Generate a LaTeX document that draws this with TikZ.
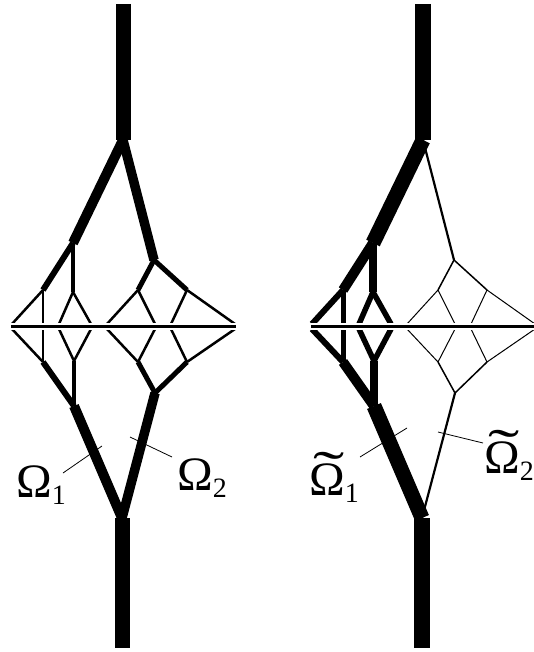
\documentclass[tikz,border=0pt]{standalone}
\usepackage{fontspec}
\usepackage{graphicx}
\setmainfont{Liberation Serif}
\newcommand\tildeOmega{\makebox[0pt][l]{\hspace{4pt}\raisebox{6pt}{\scalebox{1.95}[1.15]{˜}}}Ω}
\newcommand\mkcoords[3]{% #1 prefix, #2 x offset, #3 right end of axis
 \begin{scope}[xshift=#2]
  \coordinate (#1T) at (123,4);   \coordinate (#1S) at (123,140);
  \coordinate (#1A) at (73,243);  \coordinate (#1A1) at (43,290);  \coordinate (#1A2) at (73,292);
  \coordinate (#1A1a) at (12,324); \coordinate (#1A1b) at (43,324);
  \coordinate (#1A2a) at (59,324); \coordinate (#1A2b) at (91,324);
  \coordinate (#1B) at (154,260); \coordinate (#1B1) at (138,290); \coordinate (#1B2) at (187,290);
  \coordinate (#1B1a) at (107,324); \coordinate (#1B1b) at (155,324);
  \coordinate (#1B2a) at (171,324); \coordinate (#1B2b) at (235,324);
  \coordinate (#1a1a) at (12,329); \coordinate (#1a1b) at (43,329);
  \coordinate (#1a2a) at (59,329); \coordinate (#1a2b) at (91,329);
  \coordinate (#1a1) at (43,362); \coordinate (#1a2) at (74,361); \coordinate (#1a) at (74,406);
  \coordinate (#1b1a) at (107,329); \coordinate (#1b1b) at (155,329);
  \coordinate (#1b2a) at (171,329); \coordinate (#1b2b) at (235,329);
  \coordinate (#1b1) at (138,362); \coordinate (#1b2) at (187,362); \coordinate (#1b) at (155,393);
  \coordinate (#1s) at (122,518); \coordinate (#1t) at (122,648);
  \coordinate (#1H1) at (11,326.5);
 \end{scope}
 \coordinate (#1H2) at (#3,326.5);}
\begin{document}
\begin{tikzpicture}[x=1pt,y=-1pt,
  seg/.style={line width=#1, line cap=butt},
  lead/.style={line width=0.8pt},
  lbl/.style={inner sep=0pt, anchor=base west, font=\fontsize{48}{48}\selectfont},
  axiswhite/.style={white, line width=7.5pt, line cap=butt},
  axisblack/.style={black, line width=3pt, line cap=butt}]
\useasboundingbox (0,0) rectangle (534,652);
\mkcoords{L}{0}{236}
\mkcoords{R}{300}{534}
% ---------- left figure ----------
\draw[seg=15] (LT) -- (LS);
\draw[seg=10] (LS) -- (LA);
\draw[seg=9.5] (LS) -- (LB);
\draw[seg=6] (LA) -- (LA1);
\draw[seg=4.5] (LA) -- (LA2);
\draw[seg=5] (LB) -- (LB1);
\draw[seg=5] (LB) -- (LB2);
\foreach \p/\q in {A1/A1a,A1/A1b,A2/A2a,A2/A2b,B1/B1a,B1/B1b,B2/B2a,B2/B2b,
                   a1/a1a,a1/a1b,a2/a2a,a2/a2b,b1/b1a,b1/b1b,b2/b2a,b2/b2b}
  \draw[seg=2.5] (L\p) -- (L\q);
\draw[seg=6] (La1) -- (La);
\draw[seg=4.5] (La2) -- (La);
\draw[seg=5] (Lb1) -- (Lb);
\draw[seg=5] (Lb2) -- (Lb);
\draw[seg=10] (La) -- (Ls);
\draw[seg=9.5] (Lb) -- (Ls);
\draw[seg=15] (Ls) -- (Lt);
\draw[axiswhite] (LH1) -- (LH2);
\draw[axisblack] (LH1) -- (LH2);
% ---------- right figure ----------
\draw[seg=16] (RT) -- (RS);
\draw[seg=15] (RS) -- (RA);
\draw[seg=2.2] (RS) -- (RB);
\draw[seg=10] (RA) -- (RA1);
\draw[seg=7.5] (RA) -- (RA2);
\draw[seg=6] (RA1) -- (RA1a);
\draw[seg=5] (RA1) -- (RA1b);
\draw[seg=5.5] (RA2) -- (RA2a);
\draw[seg=5.5] (RA2) -- (RA2b);
\draw[seg=6] (Ra1) -- (Ra1a);
\draw[seg=5] (Ra1) -- (Ra1b);
\draw[seg=5.5] (Ra2) -- (Ra2a);
\draw[seg=5.5] (Ra2) -- (Ra2b);
\draw[seg=1.5] (RB) -- (RB1);
\draw[seg=1.5] (RB) -- (RB2);
\foreach \p/\q in {B1/B1a,B1/B1b,B2/B2a,B2/B2b,b1/b1a,b1/b1b,b2/b2a,b2/b2b}
  \draw[seg=1] (R\p) -- (R\q);
\draw[seg=1.5] (Rb1) -- (Rb);
\draw[seg=1.5] (Rb2) -- (Rb);
\draw[seg=10] (Ra1) -- (Ra);
\draw[seg=7.5] (Ra2) -- (Ra);
\draw[seg=15] (Ra) -- (Rs);
\draw[seg=2.2] (Rb) -- (Rs);
\draw[seg=16] (Rs) -- (Rt);
\draw[axiswhite] (RH1) -- (RH2);
\draw[axisblack] (RH1) -- (RH2);
% ---------- labels ----------
\node[lbl] (o1) at (16,497) {Ω\raisebox{-7pt}{\fontsize{28}{28}\selectfont 1}};
\node[lbl] (o2) at (177,490) {Ω\raisebox{-7pt}{\fontsize{28}{28}\selectfont 2}};
\node[lbl] (t1) at (309,495) {\tildeOmega\raisebox{-7pt}{\fontsize{28}{28}\selectfont 1}};
\node[lbl] (t2) at (484,473) {\tildeOmega\raisebox{-7pt}{\fontsize{28}{28}\selectfont 2}};
\coordinate (l1a) at (63,473);  \coordinate (l1b) at (102,446);
\coordinate (l2a) at (130,437); \coordinate (l2b) at (172,457);
\coordinate (l3a) at (360,457); \coordinate (l3b) at (407,428);
\coordinate (l4a) at (438,432); \coordinate (l4b) at (483,443);
\draw[lead] (l1a) -- (l1b);
\draw[lead] (l2a) -- (l2b);
\draw[lead] (l3a) -- (l3b);
\draw[lead] (l4a) -- (l4b);
\end{tikzpicture}
\end{document}
